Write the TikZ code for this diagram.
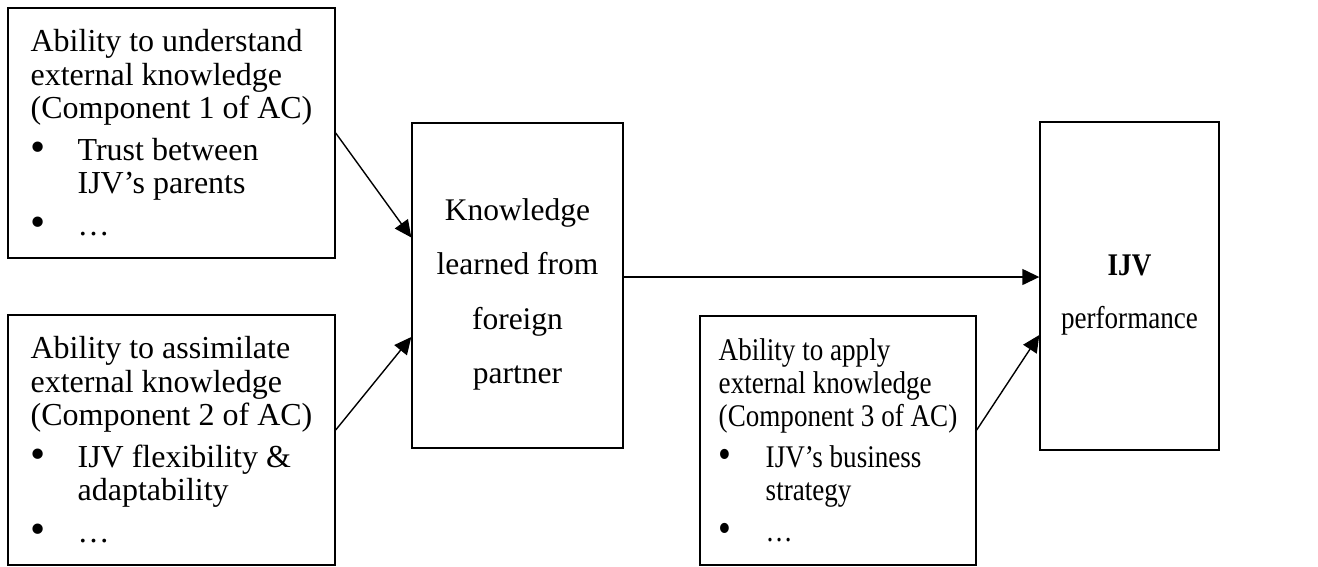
\documentclass[tikz,border=0pt]{standalone}
\usepackage{fontspec}
\setmainfont{Liberation Serif}
\newfontfamily\narrowserif{Liberation Serif}[FakeStretch=0.86]
\usetikzlibrary{arrows.meta}
\newcommand{\bul}{\makebox[47pt][l]{\raisebox{-1.5pt}{\scalebox{1.35}{\textbullet}}}}
\newcommand{\ind}{\hspace*{47pt}}
\begin{document}
\begin{tikzpicture}[x=1pt,y=-1pt,
		box/.style={draw,line width=1.4pt,inner sep=0pt},
		arr/.style={line width=1.4pt,-{Triangle[length=17pt,width=16pt]}}]
	\useasboundingbox (0,0) rectangle (1318,566);
	\node[box,align=left,minimum width=327,minimum height=250,font=\fontsize{32}{33.5}\selectfont] (und) at (171.5,133) {Ability to understand\\external knowledge\\(Component 1 of AC)\\[8pt]\bul Trust between\\\ind IJV’s parents\\[8pt]\bul …};
	\node[box,align=left,minimum width=327,minimum height=250,font=\fontsize{32}{33.5}\selectfont] (asm) at (171.5,440) {Ability to assimilate\\external knowledge\\(Component 2 of AC)\\[8pt]\bul IJV flexibility \&\\\ind adaptability\\[8pt]\bul …};
	\node[box,align=center,minimum width=211,minimum height=325,font=\fontsize{31.5}{54.5}\selectfont] (lrn) at (517.5,285.5) {\rule{0pt}{40pt}Knowledge\\learned from\\foreign\\partner};
	\node[box,align=left,minimum width=276,minimum height=249,font=\narrowserif\fontsize{31.5}{33}\selectfont] (app) at (838,440.5) {Ability to apply\\external knowledge\\(Component 3 of AC)\\[8pt]\bul IJV’s business\\\ind strategy\\[8pt]\bul …};
	\node[box,align=center,minimum width=179,minimum height=328,font=\narrowserif\fontsize{31.5}{53}\selectfont] (perf) at (1129.5,286) {\rule{0pt}{39pt}\textbf{IJV}\\performance};
	\coordinate (kout) at ([yshift=8.5pt]lrn.east);
	\draw[arr] (und.east) -- ([yshift=48pt]lrn.west);
	\draw[arr] ([yshift=10pt]asm.east) -- ([yshift=-51.5pt]lrn.west);
	\draw[arr] (kout) -- (kout -| perf.west);
	\draw[arr] ([yshift=10.5pt]app.east) -- ([yshift=-49pt]perf.west);
\end{tikzpicture}
\end{document}
